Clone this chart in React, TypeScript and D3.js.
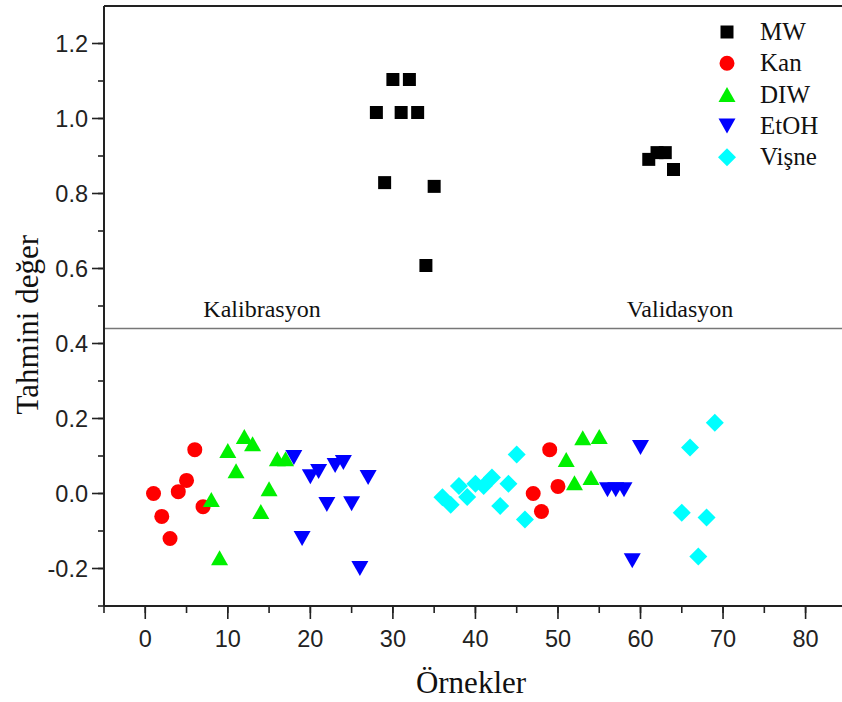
import React from "react";
import * as d3 from "d3";

// Sample indices and predicted values per group
const mwX = [28, 29, 30, 31, 32, 33, 34, 35, 61, 62, 63, 64];
const mwY = [1.016, 0.829, 1.104, 1.016, 1.104, 1.016, 0.608, 0.819, 0.891, 0.909, 0.909, 0.864];

const kanX = [1, 2, 3, 4, 5, 6, 7, 47, 48, 49, 50];
const kanY = [0.0, -0.061, -0.12, 0.005, 0.035, 0.117, -0.035, 0.0, -0.048, 0.117, 0.019];

const diwX = [8, 9, 10, 11, 12, 13, 14, 15, 16, 17, 51, 52, 53, 54, 55];
const diwY = [-0.016, -0.171, 0.115, 0.061, 0.152, 0.133, -0.048, 0.013, 0.093, 0.093, 0.091, 0.029, 0.149, 0.043, 0.152];

const etohX = [18, 19, 20, 21, 22, 23, 24, 25, 26, 27, 56, 57, 58, 59, 60];
const etohY = [0.096, -0.12, 0.045, 0.059, -0.029, 0.075, 0.083, -0.027, -0.2, 0.043, 0.01, 0.01, 0.01, -0.179, 0.123];

const visneX = [36, 37, 38, 39, 40, 41, 42, 43, 44, 45, 46, 65, 66, 67, 68, 69];
const visneY = [-0.01, -0.03, 0.02, -0.009, 0.026, 0.02, 0.043, -0.033, 0.026, 0.104, -0.069, -0.051, 0.123, -0.168, -0.064, 0.189];

const xTicks = [0, 10, 20, 30, 40, 50, 60, 70, 80];
const yTicks = [-0.2, 0.0, 0.2, 0.4, 0.6, 0.8, 1.0, 1.2];
const dividerValue = 0.44;

type Shape = "square" | "circle" | "up" | "down" | "diamond";

const series: { name: string; xs: number[]; ys: number[]; shape: Shape; color: string }[] = [
  { name: "MW", xs: mwX, ys: mwY, shape: "square", color: "#000000" },
  { name: "Kan", xs: kanX, ys: kanY, shape: "circle", color: "#ff0000" },
  { name: "DIW", xs: diwX, ys: diwY, shape: "up", color: "#00f000" },
  { name: "EtOH", xs: etohX, ys: etohY, shape: "down", color: "#0000ff" },
  { name: "Vişne", xs: visneX, ys: visneY, shape: "diamond", color: "#00ffff" },
];

const W = 842;
const H = 702;
const left = 104;
const top = 6;
const bottom = 606;
const unit = 8.254;

const x = d3.scaleLinear().domain([-5, 85]).range([left, left + 90 * unit]);
const y = d3.scaleLinear().domain([-0.3, 1.3]).range([bottom, top]);

function markerPath(shape: Shape, cx: number, cy: number): string {
  const p = d3.path();
  if (shape === "square") {
    const h = 6.5;
    p.rect(cx - h, cy - h, 2 * h, 2 * h);
  } else if (shape === "circle") {
    p.arc(cx, cy, 7.5, 0, 2 * Math.PI);
  } else if (shape === "up") {
    p.moveTo(cx, cy - 7.5);
    p.lineTo(cx + 8.5, cy + 7.5);
    p.lineTo(cx - 8.5, cy + 7.5);
    p.closePath();
  } else if (shape === "down") {
    p.moveTo(cx, cy + 7.5);
    p.lineTo(cx + 8.5, cy - 7.5);
    p.lineTo(cx - 8.5, cy - 7.5);
    p.closePath();
  } else {
    const r = 9;
    p.moveTo(cx, cy - r);
    p.lineTo(cx + r, cy);
    p.lineTo(cx, cy + r);
    p.lineTo(cx - r, cy);
    p.closePath();
  }
  return p.toString();
}

export default function App() {
  const xMinor = d3.range(-5, 86, 5);
  const yMinor = d3.range(-3, 13, 1).map((v) => v / 10);
  const serif = "'Liberation Serif', 'Times New Roman', serif";
  const sans = "'Liberation Sans', Arial, sans-serif";

  return (
    <svg
      width={W}
      height={H}
      style={{ position: "absolute", left: 0, top: 0, background: "#fff" }}
    >
      <rect x={0} y={0} width={W} height={H} fill="#fff" />

      {/* divider between calibration and validation value ranges */}
      <line x1={left} x2={W} y1={y(dividerValue)} y2={y(dividerValue)} stroke="#777" strokeWidth={1.5} />
      <text x={262} y={317} fontFamily={serif} fontSize={24} textAnchor="middle" fill="#111">
        Kalibrasyon
      </text>
      <text x={680} y={317} fontFamily={serif} fontSize={24} textAnchor="middle" fill="#111">
        Validasyon
      </text>

      {/* points */}
      {series.map((s) =>
        s.xs.map((xv, i) => (
          <path key={s.name + i} d={markerPath(s.shape, x(xv), y(s.ys[i]))} fill={s.color} />
        ))
      )}

      {/* axes frame */}
      <line x1={left} x2={W} y1={top} y2={top} stroke="#222" strokeWidth={2} />
      <line x1={left} x2={left} y1={top} y2={bottom} stroke="#222" strokeWidth={2} />
      <line x1={left} x2={W} y1={bottom} y2={bottom} stroke="#222" strokeWidth={2} />

      {/* y ticks */}
      {yMinor.map((v) => (
        <line key={"ym" + v} x1={left - 6} x2={left} y1={y(v)} y2={y(v)} stroke="#222" strokeWidth={1.6} />
      ))}
      {yTicks.map((v) => (
        <g key={"y" + v}>
          <line x1={left - 12} x2={left} y1={y(v)} y2={y(v)} stroke="#222" strokeWidth={1.6} />
          <text x={left - 16} y={y(v) + 8.5} fontFamily={sans} fontSize={23.5} textAnchor="end" fill="#222">
            {d3.format(".1f")(v).replace("−", "-")}
          </text>
        </g>
      ))}

      {/* x ticks */}
      {xMinor.map((v) => (
        <line key={"xm" + v} x1={x(v)} x2={x(v)} y1={bottom} y2={bottom + 7} stroke="#222" strokeWidth={1.6} />
      ))}
      {xTicks.map((v) => (
        <g key={"x" + v}>
          <line x1={x(v)} x2={x(v)} y1={bottom} y2={bottom + 13} stroke="#222" strokeWidth={1.6} />
          <text x={x(v)} y={bottom + 41} fontFamily={sans} fontSize={23.5} textAnchor="middle" fill="#222">
            {v}
          </text>
        </g>
      ))}

      {/* axis titles */}
      <text x={471} y={693} fontFamily={serif} fontSize={31} textAnchor="middle" fill="#111">
        Örnekler
      </text>
      <text
        transform={`translate(38, ${y(0.45)}) rotate(-90)`}
        fontFamily={serif}
        fontSize={31}
        textAnchor="middle"
        fill="#111"
      >
        Tahmini değer
      </text>

      {/* legend */}
      {series.map((s, i) => {
        const ly = 32 + i * 31.3;
        return (
          <g key={"lg" + s.name}>
            <path d={markerPath(s.shape, 727, ly)} fill={s.color} />
            <text x={760} y={ly + 8} fontFamily={serif} fontSize={25} fill="#111">
              {s.name}
            </text>
          </g>
        );
      })}
    </svg>
  );
}
